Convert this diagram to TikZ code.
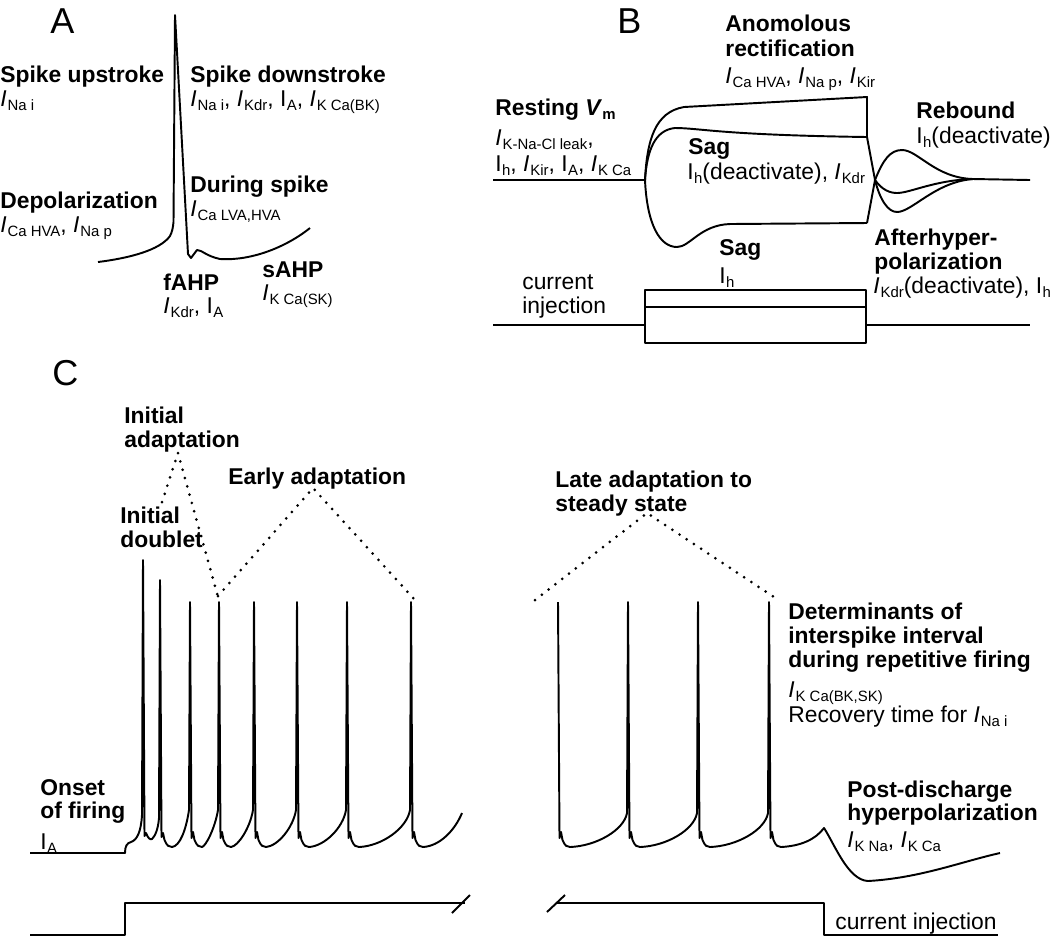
\documentclass[tikz,border=0pt]{standalone}
\usepackage{fontspec}
\setmainfont{Liberation Sans}
\newcommand\sbs[1]{\raisebox{-0.38ex}{\fontsize{8.5}{9}\selectfont #1}}
\newcommand\Ii{\textit{I}\kern0.04em}
\newcommand\Iu{I\kern0.02em}
\begin{document}
\begin{tikzpicture}[x=0.02cm,y=-0.02cm,
  lbl/.style={anchor=base west,inner sep=0pt,font=\fontsize{13}{14}\selectfont\bfseries},
  txt/.style={anchor=base west,inner sep=0pt,font=\fontsize{13}{14}\selectfont},
  panel/.style={anchor=base west,inner sep=0pt,font=\fontsize{20.5}{22}\selectfont},
  trace/.style={line width=1.1pt,line join=round},
  dotline/.style={line width=1.7pt,line cap=round,dash pattern=on 0pt off 4.9pt}]
\useasboundingbox (0,0) rectangle (1050,938);

% ---------------- Panel A ----------------
\node[panel] (pA) at (50,33) {A};
\node[lbl] (aup) at (0,82) {Spike upstroke};
\node[txt] (aupi) at (0,106) {\Ii\sbs{Na i}};
\node[lbl] (adown) at (190,82) {Spike downstroke};
\node[txt] (adowni) at (190,106) {\Ii\sbs{Na i}, \Ii\sbs{Kdr}, \Iu\sbs{A}, \Ii\sbs{K Ca(BK)}};
\node[lbl] (adep) at (0,208) {Depolarization};
\node[txt] (adepi) at (0,232) {\Ii\sbs{Ca HVA}, \Ii\sbs{Na p}};
\node[lbl] (adur) at (190,192) {During spike};
\node[txt] (aduri) at (190,216) {\Ii\sbs{Ca LVA,HVA}};
\node[lbl] (afahp) at (163,290) {fAHP};
\node[txt] (afahpi) at (163,313) {\Ii\sbs{Kdr}, \Iu\sbs{A}};
\node[lbl] (asahp) at (262,277) {sAHP};
\node[txt] (asahpi) at (262,300) {\Ii\sbs{K Ca(SK)}};

\draw[trace] (98,262) .. controls (130,258) and (160,250) .. (170,236)
  .. controls (172,232) and (173,228) .. (173.5,222) -- (175,15) -- (188,254)
  -- (191,258) -- (197,250) .. controls (202,250) and (206,256) .. (220,259)
  .. controls (250,261) and (285,248) .. (310,228);

% ---------------- Panel B ----------------
\node[panel] (pB) at (617,33) {B};
\node[lbl] (bano) at (725,31) {Anomolous};
\node[lbl] (brect) at (725,56) {rectification};
\node[txt] (brecti) at (725,83) {\Ii\sbs{Ca HVA}, \Ii\sbs{Na p}, \Ii\sbs{Kir}};
\node[lbl] (brest) at (495,115) {Resting \textit{V}\sbs{\bfseries m}};
\node[txt] (bresti) at (495,145) {\Ii\sbs{K-Na-Cl leak},};
\node[txt] (bresti2) at (495,171) {\Iu\sbs{h}, \Ii\sbs{Kir}, \Iu\sbs{A}, \Ii\sbs{K Ca}};
\node[lbl] (bsag) at (688,154) {Sag};
\node[txt] (bsagi) at (687,179) {\Iu\sbs{h}(deactivate), \Ii\sbs{Kdr}};
\node[lbl] (breb) at (916,118) {Rebound};
\node[txt] (brebi) at (916,143) {\Iu\sbs{h}(deactivate)};
\node[lbl] (bsag2) at (719,255) {Sag};
\node[txt] (bsag2i) at (719,283) {\Iu\sbs{h}};
\node[lbl] (baft) at (874,245) {Afterhyper-};
\node[lbl] (baft2) at (874,269) {polarization};
\node[txt] (bafti) at (873,293) {\Ii\sbs{Kdr}(deactivate), \Iu\sbs{h}};
\node[txt] (bcur) at (522,289) {current};
\node[txt] (bcur2) at (522,313) {injection};

\draw[trace] (493,180) -- (645,180);
\draw[trace] (645,180) .. controls (647,140) and (655,112) .. (684,107) -- (867,97) -- (867,137);
\draw[trace] (645,180) .. controls (647,150) and (655,130) .. (675,128) .. controls (700,128) and (720,135) .. (867,137);
\draw[trace] (645,180) .. controls (647,225) and (660,247) .. (677,247) .. controls (690,247) and (700,225) .. (730,224) -- (867,223);
\draw[trace] (867,137) -- (875,180) -- (867,223);
\draw[trace] (875,180) .. controls (883,160) and (890,150) .. (902,150) .. controls (918,150) and (935,178) .. (973,179);
\draw[trace] (875,180) .. controls (882,190) and (890,193) .. (897,193) .. controls (910,193) and (935,180) .. (973,179);
\draw[trace] (875,180) .. controls (880,200) and (888,212) .. (897,212) .. controls (912,212) and (935,182) .. (973,179);
\draw[trace] (973,179) -- (1030,180);

\draw[trace] (493,325) -- (645,325);
\draw[trace] (866,325) -- (1030,325);
\draw[trace] (645,290) rectangle (866,343);
\draw[trace] (645,307) -- (866,307);

% ---------------- Panel C ----------------
\node[panel] (pC) at (52,385) {C};
\node[lbl] (cia) at (124,423) {Initial};
\node[lbl] (cia2) at (124,447) {adaptation};
\node[lbl] (cea) at (228,484) {Early adaptation};
\node[lbl] (cid) at (120,523) {Initial};
\node[lbl] (cid2) at (120,547) {doublet};
\node[lbl] (cla) at (555,487) {Late adaptation to};
\node[lbl] (cla2) at (555,511) {steady state};
\node[lbl] (cdet) at (788,619) {Determinants of};
\node[lbl] (cdet2) at (788,643) {interspike interval};
\node[lbl] (cdet3) at (788,667) {during repetitive firing};
\node[txt] (cdeti) at (788,697) {\Ii\sbs{K Ca(BK,SK)}};
\node[txt] (cdeti2) at (788,722) {Recovery time for \Ii\sbs{Na i}};
\node[lbl] (cons) at (40,795) {Onset};
\node[lbl] (cons2) at (40,818) {of firing};
\node[txt] (consi) at (40,849) {\Iu\sbs{A}};
\node[lbl] (cpost) at (847,797) {Post-discharge};
\node[lbl] (cpost2) at (847,820) {hyperpolarization};
\node[txt] (cposti) at (847,847) {\Ii\sbs{K Na}, \Ii\sbs{K Ca}};
\node[txt] (ccur) at (835,929) {current injection};

% dotted brackets
\coordinate (d1a) at (162,502); \coordinate (d1b) at (178,453); \coordinate (d1c) at (218,597);
\coordinate (d2a) at (218,596); \coordinate (d2b) at (313,488); \coordinate (d2c) at (415,600);
\coordinate (d3a) at (535,600); \coordinate (d3b) at (647,513); \coordinate (d3c) at (774,597);
\draw[dotline] (d1a) -- (d1b) -- (d1c);
\draw[dotline] (d2a) -- (d2b) -- (d2c);
\draw[dotline] (d3a) -- (d3b) -- (d3c);

% left spike train
\draw[trace] (30,853) -- (125,853) .. controls (125,846) and (127,843) .. (131,842)
  .. controls (137,840) and (141,832) .. (142,815) -- (143,560) -- (144.5,836) -- (146,833)
  .. controls (148,838) and (150,840) .. (152,839) .. controls (155,836) and (158,830) .. (159,818)
  -- (160,580) -- (161.5,837) -- (163,833) -- (164.5,840) .. controls (167,846) and (169,847) .. (172,847)
  .. controls (180,846) and (186,830) .. (189,810) -- (190,602)
  \foreach \a/\b in {190/219,219/254,254/297,297/347,347/411} {
    -- ({\a+1.5},838) -- ({\a+3},832) -- ({\a+4.5},840)
    .. controls ({\a+7},846) and ({\a+9},847) .. ({\a+12},847)
    .. controls ({\a+0.55*(\b-\a)},846) and ({\b-4},828) .. ({\b-1},810) -- (\b,602) }
  -- (412.5,838) -- (414,832) -- (415.5,840) .. controls (418,846) and (420,847) .. (423,847)
  .. controls (440,846) and (455,830) .. (462,813);

% right spike train
\draw[trace] (558,602)
  \foreach \a/\b in {558/628,628/698,698/769} {
    -- ({\a+1.5},838) -- ({\a+3},832) -- ({\a+4.5},840)
    .. controls ({\a+7},846) and ({\a+9},847) .. ({\a+12},847)
    .. controls ({\a+0.55*(\b-\a)},846) and ({\b-4},830) .. ({\b-1},813) -- (\b,602) }
  -- (770.5,838) -- (772,832) -- (773.5,840) .. controls (776,846) and (778,847) .. (781,847)
  .. controls (800,846) and (815,840) .. (824,828)
  .. controls (835,845) and (848,880) .. (868,881)
  .. controls (920,878) and (960,862) .. (1000,853);

% current injection C
\draw[trace] (30,935) -- (125,935) -- (125,903) -- (465,903);
\draw[trace] (452,913) -- (470,895);
\draw[trace] (556,903) -- (824,903) -- (824,935) -- (998,935);
\draw[trace] (547,912) -- (565,895);
\end{tikzpicture}
\end{document}
